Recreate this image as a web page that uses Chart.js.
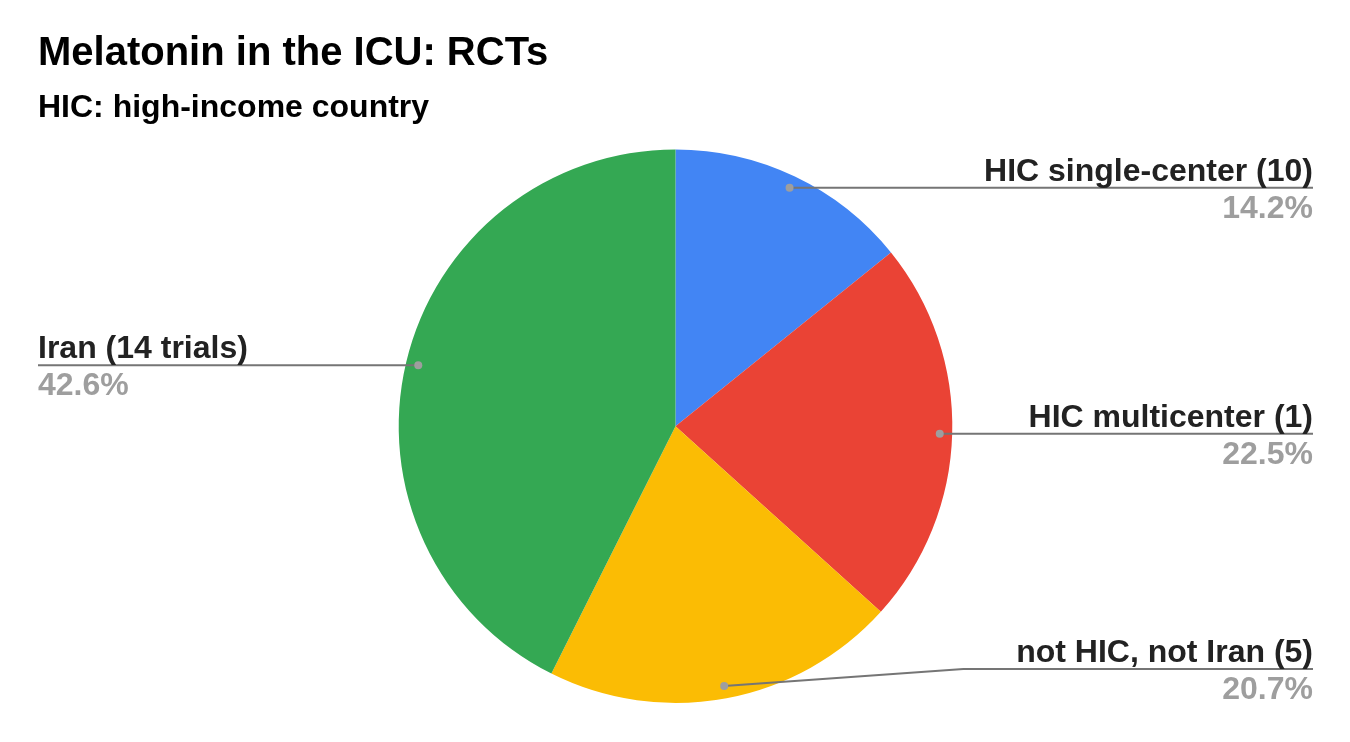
<!DOCTYPE html>
<html>
<head>
<meta charset="utf-8">
<title>Melatonin in the ICU: RCTs</title>
<script src="https://cdn.jsdelivr.net/npm/chart.js@4/dist/chart.umd.min.js"></script>
<style>
  body { margin: 0; background: #fff; }
  #wrap { width: 1350px; height: 742px; }
</style>
</head>
<body>
<div id="wrap"><canvas id="myChart" width="1350" height="742"></canvas></div>
<script>
const categories = ["HIC single-center (10)", "HIC multicenter (1)", "not HIC, not Iran (5)", "Iran (14 trials)"];
const shares = [14.2, 22.5, 20.7, 42.6];
const sliceColors = ["#4285F4", "#EA4335", "#FBBC04", "#34A853"];

Chart.defaults.font.family = "'Liberation Sans', Arial, sans-serif";

// labels with leader lines, drawn like the google sheets pie
const sideLabels = {
  id: 'sideLabels',
  afterDraw(chart) {
    const ctx = chart.ctx;
    const area = chart.chartArea;
    const meta = chart.getDatasetMeta(0);
    const total = shares.reduce((a, b) => a + b, 0);
    meta.data.forEach((arc, i) => {
      const p = arc.getProps(['x', 'y', 'startAngle', 'endAngle', 'outerRadius'], true);
      const mid = (p.startAngle + p.endAngle) / 2;
      const dotX = p.x + Math.cos(mid) * p.outerRadius * 0.955;
      const dotY = p.y + Math.sin(mid) * p.outerRadius * 0.955;
      const right = Math.cos(mid) > 0;
      let lineY = Math.min(dotY, area.bottom - 34);
      lineY = Math.max(lineY, area.top + 30);
      const endX = right ? area.right : area.left;

      ctx.save();
      ctx.strokeStyle = '#757575';
      ctx.lineWidth = 2;
      ctx.beginPath();
      ctx.moveTo(dotX, dotY);
      if (Math.abs(lineY - dotY) > 0.5) {
        const elbowX = p.x + (right ? 1 : -1) * p.outerRadius * 1.04;
        ctx.lineTo(elbowX, lineY);
      }
      ctx.lineTo(endX, lineY);
      ctx.stroke();

      ctx.fillStyle = '#9e9e9e';
      ctx.beginPath();
      ctx.arc(dotX, dotY, 4, 0, Math.PI * 2);
      ctx.fill();

      ctx.font = "bold 32px 'Liberation Sans', Arial, sans-serif";
      ctx.textAlign = right ? 'right' : 'left';
      ctx.textBaseline = 'alphabetic';
      ctx.fillStyle = '#222222';
      ctx.fillText(categories[i], endX, lineY - 7);
      ctx.fillStyle = '#9e9e9e';
      ctx.fillText((shares[i] / total * 100).toFixed(1) + '%', endX, lineY + 30);
      ctx.restore();
    });
  }
};

new Chart("myChart", {
  type: "pie",
  data: {
    labels: categories,
    datasets: [{
      data: shares,
      backgroundColor: sliceColors,
      borderWidth: 0
    }]
  },
  options: {
    responsive: false,
    animation: false,
    layout: { padding: { left: 38, right: 37, top: 0, bottom: 39 } },
    plugins: {
      legend: { display: false },
      tooltip: { enabled: false },
      title: {
        display: true,
        text: "Melatonin in the ICU: RCTs",
        align: 'start',
        color: '#000',
        font: { size: 40, weight: 'bold' },
        padding: { top: 30, bottom: 11 }
      },
      subtitle: {
        display: true,
        text: "HIC: high-income country",
        align: 'start',
        color: '#000',
        font: { size: 32, weight: 'bold' },
        padding: { top: 0, bottom: 22 }
      }
    }
  },
  plugins: [sideLabels]
});
</script>
</body>
</html>
